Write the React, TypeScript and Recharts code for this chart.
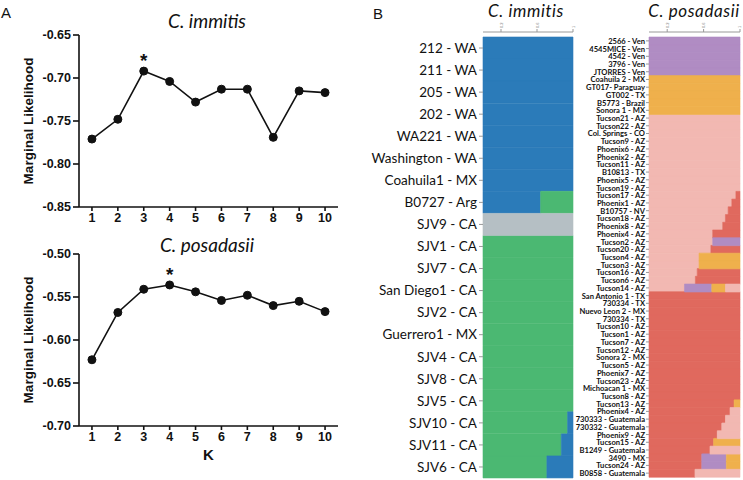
import { Bar, BarChart, Line, LineChart, ReferenceDot, XAxis, YAxis } from 'recharts'

// panel A: marginal likelihood against K
const kValues = [1, 2, 3, 4, 5, 6, 7, 8, 9, 10]
const immitisLikelihood = [-0.771, -0.748, -0.692, -0.704, -0.728, -0.713, -0.713, -0.769, -0.715, -0.717]
const posadasiiLikelihood = [-0.623, -0.568, -0.541, -0.536, -0.544, -0.554, -0.548, -0.56, -0.555, -0.567]
const immitisBestK = 3
const posadasiiBestK = 4
const immitisTicks = [-0.85, -0.8, -0.75, -0.7, -0.65]
const posadasiiTicks = [-0.7, -0.65, -0.6, -0.55, -0.5]

// panel B: ancestry proportions per isolate
const fractionTicks = [0, 0.2, 0.4, 0.6, 0.8, 1]

const immitisIsolates = [
  '212 - WA', '211 - WA', '205 - WA', '202 - WA', 'WA221 - WA', 'Washington - WA', 'Coahuila1 - MX',
  'B0727 - Arg', 'SJV9 - CA', 'SJV1 - CA', 'SJV7 - CA', 'San Diego1 - CA', 'SJV2 - CA', 'Guerrero1 - MX',
  'SJV4 - CA', 'SJV8 - CA', 'SJV5 - CA', 'SJV10 - CA', 'SJV11 - CA', 'SJV6 - CA',
]
const immitisBlueLeft = [1, 1, 1, 1, 1, 1, 1, 0.64, 0, 0, 0, 0, 0, 0, 0, 0, 0, 0, 0, 0]
const immitisGreen = [0, 0, 0, 0, 0, 0, 0, 0.36, 0, 1, 1, 1, 1, 1, 1, 1, 1, 0.94, 0.87, 0.71]
const immitisBlueRight = [0, 0, 0, 0, 0, 0, 0, 0, 0, 0, 0, 0, 0, 0, 0, 0, 0, 0.06, 0.13, 0.29]
const immitisGrey = [0, 0, 0, 0, 0, 0, 0, 0, 1, 0, 0, 0, 0, 0, 0, 0, 0, 0, 0, 0]

const posadasiiIsolates = [
  '2566 - Ven', '4545MICE - Ven', '4542 - Ven', '3796 - Ven', 'JTORRES - Ven',
  'Coahuila 2 - MX', 'GT017- Paraguay', 'GT002 - TX', 'B5773 - Brazil', 'Sonora 1 - MX',
  'Tucson21 - AZ', 'Tucson22 - AZ', 'Col. Springs - CO', 'Tucson9 - AZ', 'Phoenix6 - AZ',
  'Phoenix2 - AZ', 'Tucson11 - AZ', 'B10813 - TX', 'Phoenix5 - AZ', 'Tucson19 - AZ',
  'Tucson17 - AZ', 'Phoenix1 - AZ', 'B10757 - NV', 'Tucson18 - AZ', 'Phoenix8 - AZ',
  'Phoenix4 - AZ', 'Tucson2 - AZ', 'Tucson20 - AZ', 'Tucson4 - AZ', 'Tucson3 - AZ',
  'Tucson16 - AZ', 'Tucson6 - AZ', 'Tucson14 - AZ', 'San Antonio 1 - TX', '730334 - TX',
  'Nuevo Leon 2 - MX', '730334 - TX', 'Tucson10 - AZ', 'Tucson1 - AZ', 'Tucson7 - AZ',
  'Tucson12 - AZ', 'Sonora 2 - MX', 'Tucson5 - AZ', 'Phoenix7 - AZ', 'Tucson23 - AZ',
  'Michoacan 1 - MX', 'Tucson8 - AZ', 'Tucson13 - AZ', 'Phoenix4 - AZ', '730333 - Guatemala',
  '730332 - Guatemala', 'Phoenix9 - AZ', 'Tucson15 - AZ', 'B1249 - Guatemala', '3490 - MX',
  'Tucson24 - AZ', 'B0858 - Guatemala',
]
const posadasiiPinkLeft = [
  0, 0, 0, 0, 0, 0, 0, 0, 0, 0,
  1, 1, 1, 1, 1, 1, 1, 1, 1, 1,
  0.955, 0.91, 0.87, 0.84, 0.81, 0.7, 0.7, 0.68, 0.55, 0.55, 0.53, 0.51, 0.39,
  0, 0, 0, 0, 0, 0, 0, 0, 0, 0, 0, 0, 0, 0, 0, 0, 0, 0, 0, 0, 0, 0, 0, 0,
]
const posadasiiRed = [
  0, 0, 0, 0, 0, 0, 0, 0, 0, 0,
  0, 0, 0, 0, 0, 0, 0, 0, 0, 0,
  0.045, 0.09, 0.13, 0.16, 0.19, 0.3, 0, 0.32, 0, 0, 0.47, 0.49, 0,
  1, 1, 1, 1, 1, 1, 1, 1, 1, 1, 1, 1, 1, 1, 0.935, 0.89, 0.84, 0.8, 0.75, 0.71, 0.67, 0.58, 0.58, 0.505,
]
const posadasiiPurple = [
  1, 1, 1, 1, 1, 0, 0, 0, 0, 0,
  0, 0, 0, 0, 0, 0, 0, 0, 0, 0,
  0, 0, 0, 0, 0, 0, 0.3, 0, 0, 0, 0, 0, 0.3,
  0, 0, 0, 0, 0, 0, 0, 0, 0, 0, 0, 0, 0, 0, 0, 0, 0, 0, 0, 0, 0, 0.27, 0.27, 0,
]
const posadasiiOrange = [
  0, 0, 0, 0, 0, 1, 1, 1, 1, 1,
  0, 0, 0, 0, 0, 0, 0, 0, 0, 0,
  0, 0, 0, 0, 0, 0, 0, 0, 0.45, 0.45, 0, 0, 0.15,
  0, 0, 0, 0, 0, 0, 0, 0, 0, 0, 0, 0, 0, 0, 0.065, 0, 0, 0, 0, 0.29, 0, 0.15, 0.15, 0,
]
const posadasiiPinkRight = [
  0, 0, 0, 0, 0, 0, 0, 0, 0, 0,
  0, 0, 0, 0, 0, 0, 0, 0, 0, 0,
  0, 0, 0, 0, 0, 0, 0, 0, 0, 0, 0, 0, 0.16,
  0, 0, 0, 0, 0, 0, 0, 0, 0, 0, 0, 0, 0, 0, 0, 0.11, 0.16, 0.2, 0.25, 0, 0.33, 0, 0, 0.495,
]

const BLUE = '#2b7bb9'
const GREEN = '#4bb872'
const GREY = '#b5bfc4'
const PURPLE = '#b08cc3'
const ORANGE = '#efb04c'
const PINK = '#f2b8b2'
const RED = '#e0695e'
const INK = '#111'
const ARIAL = '"Liberation Sans", Arial, sans-serif'
const CALIBRI = 'Lato, "Noto Sans", sans-serif'

function LikelihoodPanel({
  values,
  bestK,
  ticks,
  top,
  height,
  axisHeight,
  showK,
}: {
  values: number[]
  bestK: number
  ticks: number[]
  top: number
  height: number
  axisHeight: number
  showK: boolean
}) {
  const data = kValues.map((k, i) => ({ k, value: values[i] }))
  const best = data.find((d) => d.k === bestK)!
  const tickFont = { fill: INK, fontSize: 12.5, fontWeight: 'bold', fontFamily: ARIAL }
  return (
    <div style={{ position: 'absolute', left: 0, top }}>
      <LineChart width={345} height={height} data={data} margin={{ top: 35, right: 7, bottom: 0, left: 29 }}>
        <XAxis
          dataKey="k"
          type="number"
          domain={[0.5, 10.5]}
          ticks={kValues}
          height={axisHeight}
          axisLine={{ stroke: INK, strokeWidth: 1.6 }}
          tickLine={{ stroke: INK, strokeWidth: 1.6 }}
          tickSize={4}
          tickMargin={2}
          tick={tickFont}
          label={
            showK
              ? { value: 'K', position: 'insideBottom', offset: 9, fill: INK, fontSize: 15, fontWeight: 'bold', fontFamily: ARIAL }
              : undefined
          }
        />
        <YAxis
          type="number"
          domain={[ticks[0], ticks[ticks.length - 1]]}
          ticks={ticks}
          width={50}
          tickFormatter={(v) => Number(v).toFixed(2)}
          axisLine={{ stroke: INK, strokeWidth: 1.6 }}
          tickLine={{ stroke: INK, strokeWidth: 1.6 }}
          tickSize={6}
          tickMargin={2}
          tick={tickFont}
          label={{
            value: 'Marginal Likelihood',
            angle: -90,
            position: 'center',
            dx: -26,
            fill: INK,
            fontSize: 13.5,
            fontWeight: 'bold',
            fontFamily: ARIAL,
          }}
        />
        <Line
          type="linear"
          dataKey="value"
          stroke={INK}
          strokeWidth={1.6}
          dot={{ r: 4, fill: INK, stroke: INK, strokeWidth: 1 }}
          isAnimationActive={false}
        />
        <ReferenceDot
          x={best.k}
          y={best.value}
          r={0}
          fill="none"
          stroke="none"
          label={{ value: '*', position: 'top', offset: 4, fill: INK, fontSize: 19, fontWeight: 'bold', fontFamily: ARIAL }}
        />
      </LineChart>
    </div>
  )
}

function FractionTick(props: any) {
  const { x, y, payload } = props
  return (
    <text
      x={x}
      y={y}
      transform={`rotate(-90, ${x}, ${y})`}
      textAnchor="start"
      dominantBaseline="central"
      fontSize={4}
      fill="#777"
      fontFamily={ARIAL}
    >
      {payload.value}
    </text>
  )
}

function IsolateTick(props: any) {
  const { x, y, payload } = props
  return (
    <text
      x={x}
      y={y}
      textAnchor="end"
      dominantBaseline="central"
      fontSize={7.6}
      fontWeight="bold"
      fontFamily={CALIBRI}
      fill={INK}
    >
      {payload.value}
    </text>
  )
}

function ImmitisStructure() {
  const data = immitisIsolates.map((name, i) => ({
    name,
    blueLeft: immitisBlueLeft[i],
    green: immitisGreen[i],
    blueRight: immitisBlueRight[i],
    grey: immitisGrey[i],
  }))
  return (
    <div style={{ position: 'absolute', left: 340, top: 0 }}>
      <BarChart
        width={240}
        height={480}
        layout="vertical"
        data={data}
        barCategoryGap={0}
        barGap={0}
        margin={{ top: 20, right: 7, bottom: 2, left: 3 }}
      >
        <XAxis
          type="number"
          orientation="top"
          domain={[0, 1]}
          ticks={fractionTicks}
          height={12}
          axisLine={{ stroke: '#999' }}
          tickLine={{ stroke: '#999' }}
          tickSize={3}
          tickMargin={1}
          tick={<FractionTick />}
        />
        <YAxis
          type="category"
          dataKey="name"
          width={140}
          interval={0}
          padding={{ top: 5, bottom: 0 }}
          axisLine={false}
          tickLine={{ stroke: '#999' }}
          tickSize={4}
          tickMargin={2}
          tick={{ fill: INK, fontSize: 13.5, fontFamily: CALIBRI }}
        />
        <Bar dataKey="blueLeft" stackId="q" fill={BLUE} stroke={BLUE} strokeWidth={0.6} isAnimationActive={false} />
        <Bar dataKey="green" stackId="q" fill={GREEN} stroke={GREEN} strokeWidth={0.6} isAnimationActive={false} />
        <Bar dataKey="blueRight" stackId="q" fill={BLUE} stroke={BLUE} strokeWidth={0.6} isAnimationActive={false} />
        <Bar dataKey="grey" stackId="q" fill={GREY} stroke={GREY} strokeWidth={0.6} isAnimationActive={false} />
      </BarChart>
    </div>
  )
}

function PosadasiiStructure() {
  const data = posadasiiIsolates.map((name, i) => ({
    name,
    pinkLeft: posadasiiPinkLeft[i],
    red: posadasiiRed[i],
    purple: posadasiiPurple[i],
    orange: posadasiiOrange[i],
    pinkRight: posadasiiPinkRight[i],
  }))
  // svg starts left of the panel so that the longest isolate names are not clipped
  return (
    <div style={{ position: 'absolute', left: 560, top: 0 }}>
      <BarChart
        width={183}
        height={480}
        layout="vertical"
        data={data}
        barCategoryGap={0}
        barGap={0}
        margin={{ top: 20, right: 3, bottom: 3, left: 23 }}
      >
        <XAxis
          type="number"
          orientation="top"
          domain={[0, 1]}
          ticks={fractionTicks}
          height={12}
          axisLine={{ stroke: '#999' }}
          tickLine={{ stroke: '#999' }}
          tickSize={3}
          tickMargin={1}
          tick={<FractionTick />}
        />
        <YAxis
          type="category"
          dataKey="name"
          width={66}
          interval={0}
          padding={{ top: 5, bottom: 0 }}
          axisLine={false}
          tickLine={{ stroke: '#999' }}
          tickSize={3}
          tickMargin={1}
          tick={<IsolateTick />}
        />
        <Bar dataKey="pinkLeft" stackId="q" fill={PINK} stroke={PINK} strokeWidth={0.6} isAnimationActive={false} />
        <Bar dataKey="red" stackId="q" fill={RED} stroke={RED} strokeWidth={0.6} isAnimationActive={false} />
        <Bar dataKey="purple" stackId="q" fill={PURPLE} stroke={PURPLE} strokeWidth={0.6} isAnimationActive={false} />
        <Bar dataKey="orange" stackId="q" fill={ORANGE} stroke={ORANGE} strokeWidth={0.6} isAnimationActive={false} />
        <Bar dataKey="pinkRight" stackId="q" fill={PINK} stroke={PINK} strokeWidth={0.6} isAnimationActive={false} />
      </BarChart>
    </div>
  )
}

export default function App() {
  return (
    <div style={{ position: 'absolute', left: 0, top: 0, width: 743, height: 480, background: '#fff', overflow: 'hidden' }}>
      <LikelihoodPanel
        values={immitisLikelihood}
        bestK={immitisBestK}
        ticks={immitisTicks}
        top={0}
        height={235}
        axisHeight={28}
        showK={false}
      />
      <LikelihoodPanel
        values={posadasiiLikelihood}
        bestK={posadasiiBestK}
        ticks={posadasiiTicks}
        top={219}
        height={250}
        axisHeight={43}
        showK={true}
      />
      <ImmitisStructure />
      <PosadasiiStructure />
      <svg width={743} height={480} style={{ position: 'absolute', left: 0, top: 0, pointerEvents: 'none' }}>
        <text x={1} y={18} fontSize={15} fontFamily={ARIAL} fill={INK}>A</text>
        <text x={373} y={19} fontSize={15} fontFamily={ARIAL} fill={INK}>B</text>
        <text x={207} y={28} textAnchor="middle" fontSize={19} fontStyle="italic" fontFamily={CALIBRI} fill={INK}>C. immitis</text>
        <text x={207} y={252} textAnchor="middle" fontSize={19} fontStyle="italic" fontFamily={CALIBRI} fill={INK}>C. posadasii</text>
        <text x={526} y={17} textAnchor="middle" fontSize={17} letterSpacing={0.6} fontStyle="italic" fontFamily={CALIBRI} fill={INK}>C. immitis</text>
        <text x={694} y={17} textAnchor="middle" fontSize={17} letterSpacing={0.6} fontStyle="italic" fontFamily={CALIBRI} fill={INK}>C. posadasii</text>
      </svg>
    </div>
  )
}
